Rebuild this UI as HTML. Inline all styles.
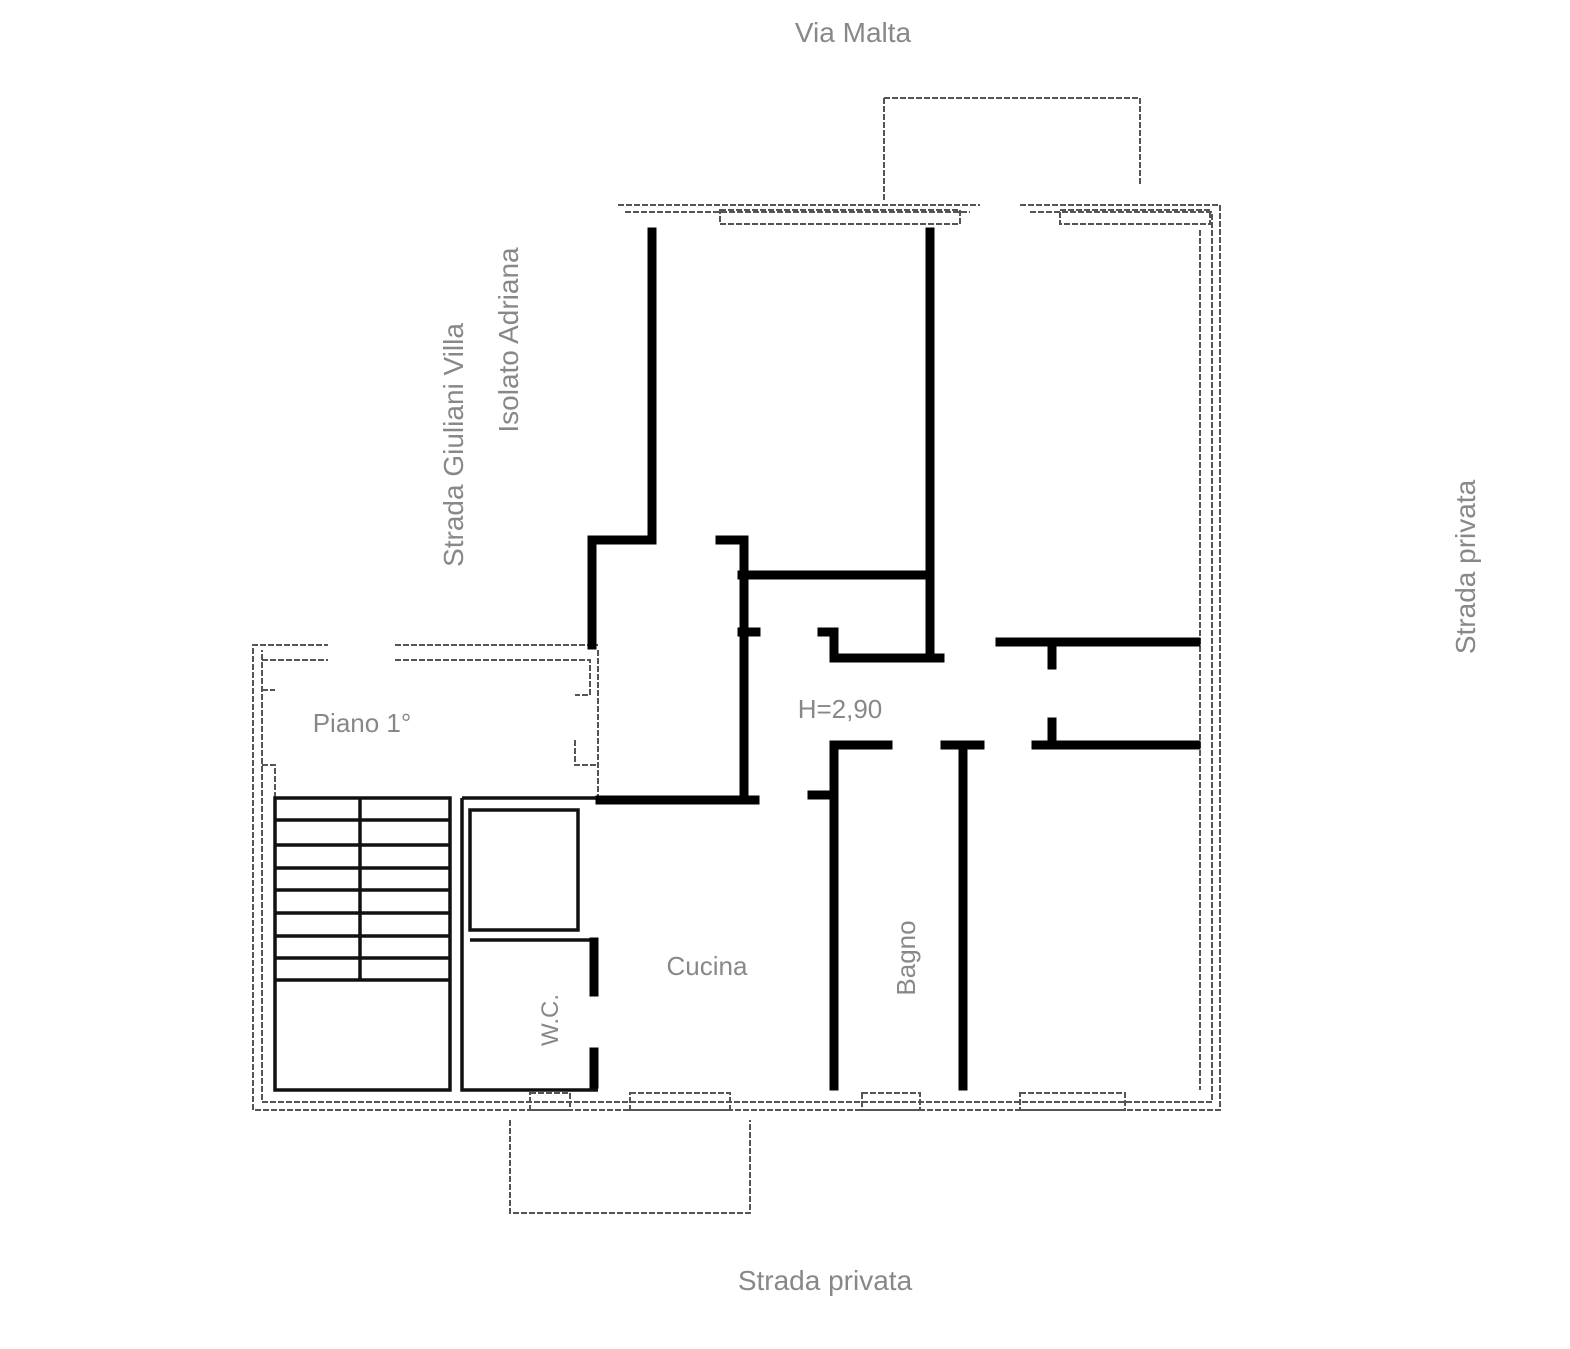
<!DOCTYPE html>
<html><head><meta charset="utf-8"><style>
html,body{margin:0;padding:0;background:#fff;}
svg{display:block;}
text{font-family:"Liberation Sans",sans-serif;fill:#888;}
</style></head><body>
<svg width="1570" height="1349" viewBox="0 0 1570 1349" xmlns="http://www.w3.org/2000/svg">
<g fill="none" stroke="#555" stroke-width="2" stroke-dasharray="6 2">
<path d="M618 205 H980 M1020 205 H1220 V1110 H253 V645 H328 M395 645 H598"/>
<path d="M625 212 H970 M1030 212 H1212 V1102 H262 V650"/>
<rect x="720" y="210" width="240" height="14"/>
<rect x="1060" y="210" width="150" height="14"/>
<path d="M1200 230 V1090"/>
<path d="M884 98 H1140 V185 M884 98 V200"/>
<path d="M510 1120 V1213 H750 V1120"/>
<rect x="530" y="1093" width="40" height="17"/>
<rect x="630" y="1093" width="100" height="17"/>
<rect x="862" y="1093" width="58" height="17"/>
<rect x="1020" y="1093" width="105" height="17"/>
<path d="M262 660 H328 M395 660 H590 V695 H575 M262 690 H275 M575 740 V765 H598 M262 765 H275 V1090"/>
<path d="M598 650 V800"/>
</g>
<g fill="none" stroke="#111" stroke-width="3.5">
<rect x="275" y="798" width="175" height="292"/>
<path d="M275 820 H450 M275 845 H450 M275 868 H450 M275 890 H450 M275 913 H450 M275 936 H450 M275 958 H450 M275 980 H450"/>
<path d="M360 798 V980"/>
<path d="M462 798 H598 M462 798 V1090 H598"/>
<rect x="470" y="810" width="108" height="120"/>
<path d="M470 940 H598"/>
</g>
<g fill="none" stroke="#000" stroke-width="9" stroke-linecap="square">
<path d="M652 232 V540 H592 V645"/>
<path d="M930 232 V650"/>
<path d="M742 575 H930"/>
<path d="M720 540 H744 V795"/>
<path d="M600 800 H755"/>
<path d="M822 632 H834 V658 H940"/>
<path d="M1000 642 H1196"/>
<path d="M1052 648 V665"/>
<path d="M1036 745 H1196"/>
<path d="M1052 722 V742"/>
<path d="M834 745 H888 M834 745 V1086"/>
<path d="M812 795 H832"/>
<path d="M945 745 H980 M963 745 V1086"/>
<path d="M594 1052 V1084"/>
<path d="M594 942 V992"/>
<path d="M742 632 H756"/>
</g>
<text x="853" y="42" font-size="28" text-anchor="middle">Via Malta</text>
<text x="825" y="1290" font-size="28" text-anchor="middle">Strada privata</text>
<text x="362" y="732" font-size="26" text-anchor="middle">Piano 1°</text>
<text x="840" y="718" font-size="26" text-anchor="middle">H=2,90</text>
<text x="707" y="975" font-size="26" text-anchor="middle">Cucina</text>
<text transform="translate(915,958) rotate(-90)" font-size="26" text-anchor="middle">Bagno</text>
<text transform="translate(558,1020) rotate(-90)" font-size="24" text-anchor="middle">W.C.</text>
<text transform="translate(463,445) rotate(-90)" font-size="28" text-anchor="middle">Strada Giuliani Villa</text>
<text transform="translate(518,340) rotate(-90)" font-size="28" text-anchor="middle">Isolato Adriana</text>
<text transform="translate(1475,567) rotate(-90)" font-size="28" text-anchor="middle">Strada privata</text>
</svg>
</body></html>
